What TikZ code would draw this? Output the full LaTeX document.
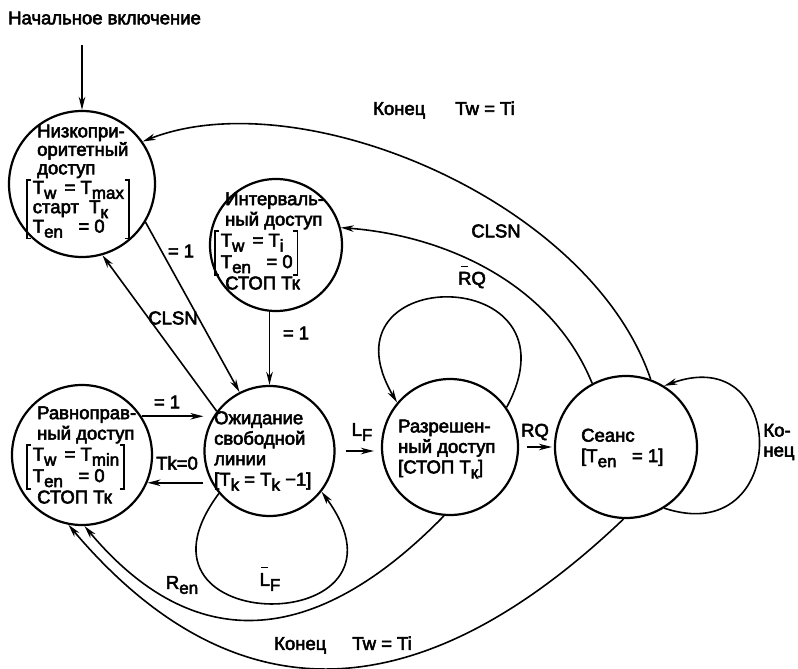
\documentclass[tikz,border=0pt]{standalone}
\usepackage{fontspec}
\setmainfont{Liberation Sans}[FakeBold=3]
\usetikzlibrary{arrows.meta}
% lowered index, e.g. T\sbs{en}
\newcommand\sbs[1]{\raisebox{-5pt}{\fontsize{17}{17}\selectfont #1}}
% short bar over a letter (negated signal)
\newcommand\ovb[1]{\ooalign{#1\cr\hidewidth\raisebox{0.95em}{\rule{0.36em}{1.4pt}}\hidewidth\cr}}
% square bracket drawn with rules around a block of lines
\newlength\bkw \setlength\bkw{1.6pt}
\newlength\bkt \setlength\bkt{5pt}
\newcommand\brk[1]{{%
  \renewcommand\arraystretch{1.05}%
  \setbox0=\hbox{\begin{tabular}{@{}l@{}}#1\end{tabular}}%
  \dimen0=\dimexpr\ht0+1pt\relax \dimen2=\dimexpr\dp0+1pt\relax
  \rlap{\rule[\dimexpr\dimen0-\bkw\relax]{\bkt}{\bkw}}%
  \rlap{\rule[-\dimen2]{\bkt}{\bkw}}%
  \rule[-\dimen2]{\bkw}{\dimexpr\dimen0+\dimen2\relax}%
  \hspace{5pt}\box0\hspace{4pt}%
  \rule[-\dimen2]{\bkw}{\dimexpr\dimen0+\dimen2\relax}%
  \llap{\rule[\dimexpr\dimen0-\bkw\relax]{\bkt}{\bkw}}%
  \llap{\rule[-\dimen2]{\bkt}{\bkw}}}}
\begin{document}
\begin{tikzpicture}[x=1pt,y=-1pt,
  state/.style={circle,draw,line width=2.2pt,inner sep=0pt,minimum size=#1},
  statetext/.style={align=left,inner sep=0pt,anchor=west,font=\fontsize{18.5}{20.5}\selectfont},
  lbl/.style={inner sep=0pt,font=\fontsize{18.5}{20}\selectfont},
  conn/.style={line width=1.6pt,-{Stealth[length=13pt,width=6.5pt,inset=4pt]}}]
\useasboundingbox (0,0) rectangle (798,669);

% states
\node[state=146pt] (c1) at (82,184) {};
\node[state=132pt] (c2) at (276,245) {};
\node[state=140pt] (c3) at (82,455) {};
\node[state=130pt] (c4) at (269.5,451) {};
\node[state=136pt] (c5) at (450,447) {};
\node[state=142pt] (c6) at (626,447) {};

% state contents, set from the left edge of each block
\node[statetext,font=\fontsize{18.5}{18.5}\selectfont] (c1t) at (37,182) {Низкопри-\\оритетный\\доступ\\\hspace*{-11pt}\brk{T\sbs{w}\ \,= T\sbs{max}\\старт\ \ T\sbs{к}\\T\sbs{en}\ \ \ = 0}};
\node[statetext] (c2t) at (225,241) {Интерваль-\\ный доступ\\\hspace*{-11pt}\brk{T\sbs{w}\ \,= T\sbs{i}\\T\sbs{en}\ \ \ = 0}\\СТОП Тк};
\node[statetext] (c3t) at (37,455) {Равноправ-\\ный доступ\\\hspace*{-11pt}\brk{T\sbs{w}\ \,= T\sbs{min}\\T\sbs{en}\ \ \ = 0}\\СТОП Тк};
\node[statetext] (c4t) at (214,451) {Ожидание\\свободной\\линии\\{[}T\sbs{k}\ = T\sbs{k}\ −1]};
\node[statetext] (c5t) at (398,449) {Разрешен-\\ный доступ\\{[}СТОП T\sbs{к}]};
\node[statetext] (c6t) at (581,448) {Сеанс\\{[}T\sbs{en}\ \ \ = 1]};

% power-on entry
\node[lbl,anchor=west] (start) at (8,18) {Начальное включение};
\coordinate (init) at (82,45);
\draw[conn] (init) -- (c1);

% straight transitions
\draw[conn] (c1.-31) -- (c4.117);
\draw[conn] (c4.143) -- (c1.-74);
\draw[conn] (c2.south -| c4.north) -- (c4.north);
\draw[conn] (c3.33) -- (c3.33 -| c4.west);
\draw[conn] (c4.west |- c3.-23) -- (c3.-23);
\draw[conn,shorten <=10pt,shorten >=7pt] (c4.east) -- (c4.east -| c5.west);
\draw[conn,shorten <=8pt,shorten >=2pt] (c5.east) -- (c5.east -| c6.west);

% curved transitions
\draw[conn] (c6.70) .. controls (590,200) and (300,80) .. (c1.35);
\draw[conn] (c6.118) .. controls (550,280) and (440,235) .. (c2.15);
\draw[conn] (c5.-95) .. controls (312,651) and (192,654) .. (c3.-88);
\draw[conn] (c6.-92) .. controls (417,716) and (232,718) .. (c3.-101);

% self loops
\draw[conn] (c4.220) .. controls (110,640) and (430,640) .. (c4.-38);
\draw[conn] (c5.35) .. controls (585,262) and (315,262) .. (c5.140);
\draw[conn] (c6.-58) .. controls (790,550) and (790,340) .. (c6.58);

% transition labels
\node[lbl] (l1) at (181,251) {= 1};
\node[lbl] (l2) at (173,318) {CLSN};
\node[lbl] (l3) at (296,333) {= 1};
\node[lbl] (l4) at (167,402) {= 1};
\node[lbl] (l5) at (177,463) {Tk=0};
\node[lbl] (l6) at (362,432) {L\sbs{F}};
\node[lbl] (l7) at (535,432) {RQ};
\node[lbl] (l8) at (472,280) {\ovb{R}Q};
\node[lbl] (l9) at (270,582) {\ovb{L}\sbs{F}};
\node[lbl] (l10) at (182,585) {R\sbs{en}};
\node[lbl] (l11) at (444,110) {Конец\hspace{30pt}Tw = Ti};
\node[lbl] (l12) at (343,645) {Конец\hspace{26pt}Tw = Ti};
\node[lbl] (l13) at (496,231) {CLSN};
\node[lbl,align=left] (l14) at (779,442) {Ко-\\нец};
\end{tikzpicture}
\end{document}
